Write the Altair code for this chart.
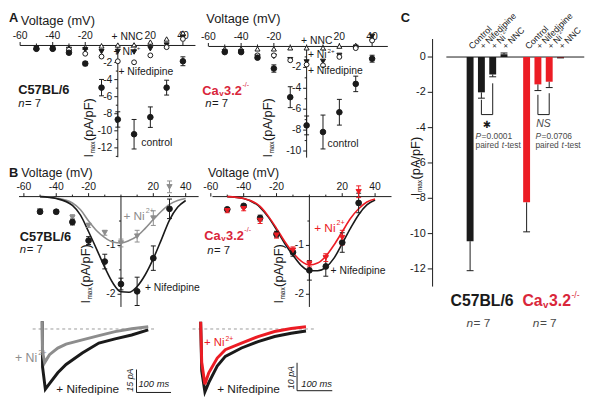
import altair as alt
import pandas as pd

FONT = "Liberation Sans"
INK = "#1a1a1a"
RED = "#ec1c24"
RED_TXT = "#d9263a"
GRAY = "#8d8d8d"
NOTE = "#4a4a4a"
CANVAS_W, CANVAS_H = 601, 397

# ---------------- data ----------------
V_A = [-50, -40, -30, -20, -10, 0, 10, 20, 30, 40]
A_c57_control = [-0.39, -0.39, -0.85, -2.12, -4.94, -8.67, -10.4, -8.4, -4.94, -1.85]
A_c57_control_err = [0.08, 0.08, 0.12, 0.25, 0.96, 0.9, 1.73, 1.2, 0.87, 0.52]
A_c57_nif = [-0.39, -0.39, -0.5, -0.97, -1.3, -1.85, -1.97, -1.16, -0.2, 0.76]
A_c57_ni = [-0.3, -0.3, -0.45, -0.5, -0.72, -0.7, -0.77, -0.39, 0.05, 0.96]
A_c57_nnc = [-0.2, -0.2, -0.3, -0.2, -0.05, 0.05, 0.07, 0.4, 0.76, 1.46]
A_cav_control = [-0.54, -0.54, -1.07, -2.11, -4.85, -7.55, -8.18, -6.29, -3.58, -1.17]
A_cav_control_err = [0.08, 0.08, 0.12, 0.35, 1.0, 0.9, 1.62, 1.23, 0.74, 0.33]
A_cav_nif = [-0.47, -0.47, -0.85, -0.85, -1.32, -1.73, -1.8, -1.0, -0.16, 0.57]
A_cav_ni = [-0.5, -0.5, -0.95, -0.95, -1.26, -1.48, -1.42, -0.85, -0.07, 0.97]
A_cav_nnc = [-0.23, -0.23, -0.23, -0.23, -0.13, -0.13, -0.13, 0.03, 0.1, 0.78]

V_B = [-50, -40, -30, -20, -10, 0, 10, 20, 30]
B_c57_nif = [-0.31, -0.31, -0.52, -0.9, -1.33, -1.79, -1.94, -1.26, -0.25]
B_c57_nif_err = [0.03, 0.03, 0.06, 0.08, 0.15, 0.12, 0.29, 0.25, 0.2]
B_c57_ni = [-0.29, -0.32, -0.43, -0.59, -0.74, -0.95, -0.81, -0.44, 0.2]
B_c57_ni_err = [0.03, 0.03, 0.06, 0.04, 0.05, 0.08, 0.12, 0.15, 0.12]
B_cav_nif = [-0.26, -0.19, -0.44, -0.77, -1.14, -1.51, -1.43, -0.94, -0.13]
B_cav_nif_err = [0.03, 0.03, 0.06, 0.06, 0.08, 0.2, 0.2, 0.2, 0.2]
B_cav_ni = [-0.29, -0.25, -0.49, -0.79, -1.1, -1.38, -1.25, -0.84, 0.1]
B_cav_ni_err = [0.04, 0.04, 0.06, 0.06, 0.07, 0.06, 0.08, 0.15, 0.12]

V_FIT = [-50, -40, -30, -25, -20, -15, -10, -5, 0, 5, 10, 15, 20, 25, 30, 35, 40]
FIT_c57_nif = [0, -0.04, -0.18, -0.38, -0.72, -1.08, -1.45, -1.77, -1.95, -1.96, -1.84, -1.6, -1.27, -0.88, -0.48, -0.22, -0.08]
FIT_c57_ni = [0, -0.03, -0.13, -0.27, -0.5, -0.7, -0.84, -0.93, -0.95, -0.9, -0.81, -0.65, -0.47, -0.3, -0.16, -0.08, -0.04]
FIT_cav_nif = [0, -0.04, -0.22, -0.42, -0.68, -0.96, -1.2, -1.41, -1.52, -1.52, -1.45, -1.26, -0.96, -0.65, -0.37, -0.17, -0.07]
FIT_cav_ni = [0, -0.04, -0.2, -0.4, -0.65, -0.92, -1.15, -1.32, -1.4, -1.36, -1.22, -0.99, -0.72, -0.45, -0.25, -0.11, -0.05]

# current traces (ms, pA)
T_c57_nif_t = [0, 1, 9, 21, 45, 69, 116, 164, 211, 259, 307]
T_c57_nif = [5, -25, -39.4, -35.7, -28.6, -23.2, -15.7, -9.2, -6.5, -3.9, -0.6]
T_c57_ni_t = [0, 1, 7, 21, 45, 69, 116, 164, 211, 259, 307]
T_c57_ni = [5, -15, -22, -16.8, -12.5, -9.9, -7.1, -4.3, -1.7, 0.2, 1.5]
T_cav_t = [0, 3, 12, 23, 47, 70, 116, 163, 210, 257, 299]
T_cav_nif = [2.6, -15, -22.5, -19.2, -13.3, -9.8, -6.8, -4.5, -2.7, -1.5, -0.7]
T_cav_ni = [2.6, -12, -19.8, -15.7, -10.4, -7.4, -5.1, -2.7, -0.9, 0.2, 0.8]

C_groups = ["C57BL/6"] * 4 + ["Cav3.2-/-"] * 4
C_conditions = ["Control", "+ Nifedipine", "+ Ni2+", "+ NNC"] * 2
C_values = [-10.43, -2.0, -0.99, 0.15, -8.23, -1.55, -1.4, -0.05]
C_errors = [1.67, 0.33, 0.13, 0.08, 1.67, 0.35, 0.33, 0.0]

# ---------------- helpers ----------------
W_REG = {' ': 278, '(': 333, ')': 333, '*': 389, '+': 584, '-': 333, '.': 278, '/': 278, '=': 584,
         'A': 667, 'B': 667, 'C': 722, 'F': 611, 'I': 278, 'L': 556, 'N': 722, 'P': 667, 'S': 667,
         'V': 667, 'a': 556, 'c': 500, 'd': 556, 'e': 556, 'f': 278, 'g': 556, 'i': 222, 'l': 222,
         'm': 833, 'n': 556, 'o': 556, 'p': 556, 'r': 333, 's': 500, 't': 278, 'v': 500, 'x': 500}
for _d in "0123456789":
    W_REG[_d] = 556
W_BOLD = dict(W_REG)
W_BOLD.update({'A': 722, 'B': 722, 'L': 611, 'v': 556, 'a': 556, 'C': 722})


def tw(s, size, bold=False):
    tab = W_BOLD if bold else W_REG
    return sum(tab.get(c, 556) for c in s) * size / 1000.0


def bc(*cols):
    cols = [c if isinstance(c, (list, tuple)) else [c] for c in cols]
    n = max(len(c) for c in cols)
    return [list(c) * n if len(c) == 1 else list(c) for c in cols]


class Panel:
    def __init__(self, x_org, x_k, y_org, y_k):
        self.xk, self.yk = x_k, y_k
        self.xs = alt.Scale(domain=[(0 - x_org) / x_k, (CANVAS_W - x_org) / x_k], nice=False, zero=False)
        self.ys = alt.Scale(domain=[(y_org - CANVAS_H) / y_k, (y_org - 0) / y_k], nice=False, zero=False)
        self.layers = []

    def X(self, f='x'):
        return alt.X(f + ':Q', scale=self.xs, axis=None)

    def Y(self, f='y'):
        return alt.Y(f + ':Q', scale=self.ys, axis=None)

    def text(self, x, y, s, size=10.5, color=INK, align='left', baseline='middle', angle=0,
             bold=False, italic=False, dx=0, dy=0, font=FONT):
        xs, ys, ts = bc(x, y, s)
        df = pd.DataFrame({'x': xs, 'y': ys, 't': ts})
        kw = dict(font=font, fontSize=size, color=color, align=align, baseline=baseline)
        if angle:
            kw['angle'] = angle
        if bold:
            kw['fontWeight'] = 'bold'
        if italic:
            kw['fontStyle'] = 'italic'
        if dx:
            kw['dx'] = dx
        if dy:
            kw['dy'] = dy
        self.layers.append(alt.Chart(df).mark_text(**kw).encode(x=self.X(), y=self.Y(), text='t:N'))

    def rules(self, x, y, x2, y2, color=INK, width=1.0, dash=None):
        x, y, x2, y2 = bc(x, y, x2, y2)
        df = pd.DataFrame({'x': x, 'y': y, 'x2': x2, 'y2': y2})
        kw = dict(color=color, strokeWidth=width, opacity=1)
        if dash:
            kw['strokeDash'] = dash
        self.layers.append(alt.Chart(df).mark_rule(**kw).encode(
            x=self.X(), y=self.Y(), x2='x2:Q', y2='y2:Q'))

    def points(self, xs, ys, shape, fill, stroke, size):
        df = pd.DataFrame({'x': xs, 'y': ys})
        self.layers.append(alt.Chart(df).mark_point(
            shape=shape, filled=True, fill=fill, stroke=stroke, strokeWidth=1, size=size, opacity=1
        ).encode(x=self.X(), y=self.Y()))

    def caps(self, xs, ys, color, cap):
        df = pd.DataFrame({'x': xs, 'y': ys})
        self.layers.append(alt.Chart(df).mark_tick(
            orient='horizontal', size=cap, thickness=1, color=color, opacity=1
        ).encode(x=self.X(), y=self.Y()))

    def err(self, xs, ys, es, color=INK, cap=5):
        lo = [a - e for a, e in zip(ys, es)]
        hi = [a + e for a, e in zip(ys, es)]
        self.rules(xs, lo, xs, hi, color)
        self.caps(list(xs) + list(xs), lo + hi, color, cap)

    def line(self, xs, ys, color, width, interp='monotone'):
        df = pd.DataFrame({'x': xs, 'y': ys})
        self.layers.append(alt.Chart(df).mark_line(
            color=color, strokeWidth=width, interpolate=interp, opacity=1
        ).encode(x=self.X(), y=self.Y()))

    def xaxis(self, lo, hi, ticks, labels, size=10.5):
        self.rules(lo, 0, hi, 0)
        major = [t for t in ticks if t in labels]
        minor = [t for t in ticks if t not in labels]
        self.rules(major, 0, major, 3.5 / self.yk)
        if minor:
            self.rules(minor, 0, minor, 2.0 / self.yk)
        self.text(labels, 0, [str(v) for v in labels], size=size, align='center',
                  baseline='alphabetic', dy=-6.5)

    def yaxis(self, x0, top, bottom, ticks, labels, size=10.5, major_len=3.5, minor_len=2.0):
        self.rules(x0, top, x0, bottom)
        major = [t for t in ticks if t in labels]
        minor = [t for t in ticks if t not in labels]
        self.rules(x0 - major_len / self.xk, major, x0, major)
        if minor:
            self.rules(x0 - minor_len / self.xk, minor, x0, minor)
        self.text(x0, labels, [str(v) for v in labels], size=size, align='right',
                  dx=-(major_len + 2))

    def ni(self, x, y, size, color=INK, angle=0):
        self.text(x, y, "+ Ni", size, color, angle=angle)
        self.text(x, y, "2+", size * 0.6, color, angle=angle, dx=tw("+ Ni", size) + 1, dy=-size * 0.4)

    def cav(self, x, y, size, color=RED_TXT):
        w1 = tw("Ca", size, True) + 0.5
        w2 = tw("v", size * 0.62, True) + 0.5
        w3 = tw("3.2", size, True) + 0.5
        self.text(x, y, "Ca", size, color, bold=True)
        self.text(x, y, "v", size * 0.62, color, bold=True, dx=w1, dy=size * 0.25)
        self.text(x, y, "3.2", size, color, bold=True, dx=w1 + w2)
        self.text(x, y, "-/-", size * 0.55, color, dx=w1 + w2 + w3, dy=-size * 0.42)

    def nlab(self, x, y, size=11.5, color=INK):
        self.text(x, y, "n", size, color, italic=True)
        self.text(x, y, " = 7", size, color, dx=tw("n", size) + 0.5)

    def imax(self, x, y, size=13):
        self.text(x, y, "I", size, INK, angle=270)
        self.text(x, y, "max", size * 0.5, INK, angle=270, dx=tw("I", size) + 0.5, dy=size * 0.3)
        self.text(x, y, " (pA/pF)", size, INK, angle=270,
                  dx=tw("I", size) + tw("max", size * 0.5) + 1)

    def chart(self):
        return alt.layer(*self.layers)


TICKS_V = [-60, -50, -40, -30, -20, -10, 0, 10, 20, 30, 40]
LABELS_V = [-60, -40, -20, 20, 40]

# ---------------- Panel A, C57BL/6 ----------------
AL = Panel(119.3, 1.65, 43.3, 8.65)
AL.text(-66.8, 3.27, "A", 13, bold=True)
AL.text(-36.8, 2.81, "Voltage (mV)", 13, align='center')
AL.xaxis(-60, 47.7, TICKS_V, LABELS_V)
AL.yaxis(0, 0, -13.1, list(range(-1, -14, -1)), [-2, -4, -6, -8, -10, -12])
AL.points(V_A, A_c57_nnc, 'triangle-up', 'white', INK, 26)
AL.points(V_A, A_c57_ni, 'triangle-down', INK, INK, 26)
AL.points(V_A, A_c57_nif, 'circle', 'white', INK, 24)
AL.err(V_A, A_c57_control, A_c57_control_err)
AL.points(V_A, A_c57_control, 'circle', INK, INK, 32)
AL.text(-3.8, 0.96, "+ NNC", 10.5)
AL.ni(-2.6, -0.77, 10.5)
AL.text(0.4, -3.17, "+ Nifedipine", 10.5)
AL.text(14.4, -11.38, "control", 10.5)
AL.text(-61.2, -5.22, "C57BL/6", 13, bold=True)
AL.nlab(-61.2, -6.84)
AL.imax(-17.8, -13.14, 13)

# ---------------- Panel A, Cav3.2-/- ----------------
AR = Panel(310.7, 1.66, 44.3, 10.6)
AR.text(-38.6, 2.58, "Voltage (mV)", 13, align='center')
AR.xaxis(-59.8, 49.6, TICKS_V, LABELS_V)
AR.yaxis(0, 0, -10.63, list(range(-1, -11, -1)), [-2, -4, -6, -8, -10])
AR.points(V_A, A_cav_nnc, 'triangle-up', 'white', INK, 26)
AR.points(V_A, A_cav_ni, 'triangle-down', INK, INK, 26)
AR.points(V_A, A_cav_nif, 'circle', 'white', INK, 24)
AR.err(V_A, A_cav_control, A_cav_control_err)
AR.points(V_A, A_cav_control, 'circle', INK, INK, 32)
AR.text(-3.4, 0.5, "+ NNC", 10.5)
AR.ni(0.8, -0.82, 10.5)
AR.text(0.8, -2.33, "+ Nifedipine", 10.5)
AR.text(12.8, -9.31, "control", 10.5)
AR.cav(-63.7, -4.22, 13)
AR.nlab(-61.9, -5.49)
AR.imax(-23.5, -10.63, 13)

# ---------------- Panel B, C57BL/6 ----------------
B_TICKS_I = [-0.5, -1, -1.5, -2]
BL = Panel(122.5, 1.64, 196.5, 49.5)
BL.text(-69.2, 0.475, "B", 13, bold=True)
BL.text(-39.6, 0.475, "Voltage (mV)", 12.5, align='center')
BL.xaxis(-63, 48, TICKS_V, LABELS_V)
BL.yaxis(0, 0, -2.26, B_TICKS_I, [-1, -2])
BL.line(V_FIT, FIT_c57_ni, GRAY, 1.6)
BL.line(V_FIT, FIT_c57_nif, INK, 1.6)
BL.err(V_B, B_c57_ni, B_c57_ni_err, GRAY)
BL.err(V_B, B_c57_nif, B_c57_nif_err, INK)
BL.points(V_B, B_c57_ni, 'triangle-down', GRAY, GRAY, 28)
BL.points(V_B, B_c57_nif, 'circle', INK, INK, 34)
BL.text(-62.5, -0.82, "C57BL/6", 13, bold=True)
BL.nlab(-62.5, -1.09)
BL.ni(1.5, -0.39, 12, GRAY)
BL.text(14.8, -1.87, "+ Nifedipine", 10.5)
BL.imax(-21.3, -2.19, 13)

# ---------------- Panel B, Cav3.2-/- ----------------
BR = Panel(313.5, 1.665, 196.5, 49.5)
BR.text(-40.1, 0.475, "Voltage (mV)", 12.5, align='center')
BR.xaxis(-59, 50, TICKS_V, LABELS_V)
BR.yaxis(0, 0, -2.26, B_TICKS_I, [-1, -2])
BR.line(V_FIT, FIT_cav_nif, INK, 1.6)
BR.line(V_FIT, FIT_cav_ni, RED, 1.6)
BR.err(V_B, B_cav_nif, B_cav_nif_err, INK)
BR.err(V_B, B_cav_ni, B_cav_ni_err, RED)
BR.points(V_B, B_cav_nif, 'circle', INK, INK, 34)
BR.points(V_B, B_cav_ni, 'triangle-down', RED, RED, 28)
BR.cav(-64, -0.8, 13)
BR.nlab(-62.2, -1.11)
BR.ni(2.9, -0.64, 12, RED)
BR.text(12.9, -1.52, "+ Nifedipine", 10.5)
BR.imax(-18.3, -2.19, 13)

# ---------------- current traces ----------------
TL = Panel(42.7, 0.35, 330.7, 1.55)
TL.rules(-27.7, 0, 326.6, 0, "#9a9a9a", 1, [3, 3])
TL.line(T_c57_nif_t, T_c57_nif, INK, 3.0, 'linear')
TL.line(T_c57_ni_t, T_c57_ni, GRAY, 3.0, 'linear')
TL.ni(-79, -18.9, 12.5, GRAY)
TL.text(40.9, -39.0, "+ Nifedipine", 12)
TL.rules(273, -41.5, 273, -26.5)
TL.rules(273, -41.5, 373, -41.5)
TL.text(253.7, -33.4, "15 pA", 9, angle=270, align='center', italic=True)
TL.text(323, -36.3, "100 ms", 9.5, align='center', italic=True)

TR = Panel(203.3, 0.357, 330.7, 2.83)
TR.rules(-23.2, 0, 322, 0, "#9a9a9a", 1, [3, 3])
TR.line(T_cav_t, T_cav_nif, INK, 3.0, 'linear')
TR.line(T_cav_t, T_cav_ni, RED, 3.0, 'linear')
TR.ni(9.5, -5.05, 11.5, RED)
TR.text(46.8, -21.4, "+ Nifedipine", 12)
TR.rules(273.7, -22.1, 273.7, -12.1)
TR.rules(273.7, -22.1, 373.7, -22.1)
TR.text(256.9, -17.4, "10 pA", 9, angle=270, align='center', italic=True)
TR.text(329, -19.8, "100 ms", 9.5, align='center', italic=True)

# ---------------- Panel C ----------------
PC = Panel(479.4, 11.65, 55, 17.9)
slots = [i + (1 if i >= 4 else 0) for i in range(len(C_values))]
PC.text(-6.13, 2.18, "C", 13, bold=True)
PC.yaxis(-3.32, 1.02, -13.0, [0, -2, -4, -6, -8, -10, -12], [0, -2, -4, -6, -8, -10, -12],
         size=11, major_len=5)
PC.rules(-2.1, 0, 10.1, 0)
dfc = pd.DataFrame({'x': slots, 'y': C_values, 'y0': [0] * len(slots), 'g': C_groups})
PC.layers.append(alt.Chart(dfc).mark_bar(size=7, opacity=1).encode(
    x=PC.X(), y=PC.Y(), y2='y0:Q',
    color=alt.Color('g:N', scale=alt.Scale(domain=["C57BL/6", "Cav3.2-/-"], range=[INK, RED]),
                    legend=None)))
ends = [v - e if v < 0 else v + e for v, e in zip(C_values, C_errors)]
PC.rules(slots, C_values, slots, ends)
PC.caps(slots, ends, INK, 7)
for s, cond in zip(slots, C_conditions):
    if cond == "+ Ni2+":
        PC.ni(s, 0.53, 9, INK, angle=315)
    else:
        PC.text(s, 0.53, cond, 9, INK, angle=315)
# paired comparisons
PC.rules([1, 2, 1], [-2.42, -1.49, -3.26], [1, 2, 2], [-3.26, -3.26, -3.26])
PC.rules([6, 7, 6], [-2.14, -2.05, -3.26], [6, 7, 7], [-3.26, -3.26, -3.26])
PC.text(1.485, -3.85, "\u2731", 10, INK, align='center', font="DejaVu Sans")
PC.text(6.49, -3.82, "NS", 10.5, NOTE, align='center', italic=True)
for x0, p in [(0.48, "=0.0001"), (5.78, "=0.0706")]:
    PC.text(x0, -4.5, "P", 8.5, NOTE, italic=True)
    PC.text(x0, -4.5, p, 8.5, NOTE, dx=tw("P", 8.5) + 0.5)
    PC.text(x0, -5.0, "paired ", 8.5, NOTE)
    PC.text(x0, -5.0, "t", 8.5, NOTE, italic=True, dx=tw("paired ", 8.5) + 0.5)
    PC.text(x0, -5.0, "-test", 8.5, NOTE, dx=tw("paired t", 8.5) + 1)
PC.text(1.06, -13.84, "C57BL/6", 16, INK, align='center', bold=True)
PC.cav(4.63, -13.84, 16)
PC.nlab(-0.32, -15.08, 12, NOTE)
PC.nlab(5.55, -15.08, 12, NOTE)
PC.imax(-4.76, -7.88, 13)

panels = [AL, AR, BL, BR, TL, TR, PC]
chart = alt.layer(*[p.chart() for p in panels]).resolve_scale(
    x='independent', y='independent'
).properties(
    width=CANVAS_W, height=CANVAS_H,
    padding={"left": -8, "top": -8, "right": 0, "bottom": 0},
    background='white'
).configure_view(strokeWidth=0)

chart.save("out.html", embed_options={"renderer": "svg", "actions": False})
